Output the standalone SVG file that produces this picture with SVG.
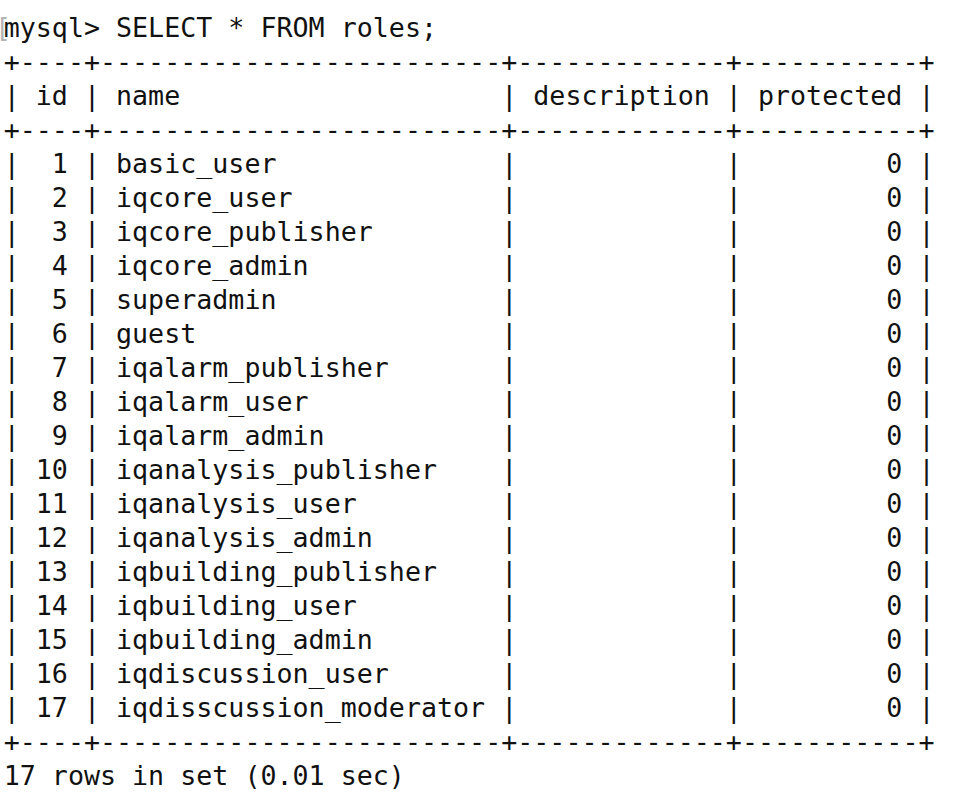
<svg xmlns="http://www.w3.org/2000/svg" width="968" height="796" viewBox="0 0 968 796">
<style>
.t{font-family:"DejaVu Sans Mono","Liberation Mono",monospace;font-size:26.66px;fill:#111;white-space:pre}
.m{font-family:"DejaVu Sans Mono","Liberation Mono",monospace;font-size:26.66px;fill:#b4b4b4}
</style>
<rect width="968" height="796" fill="#ffffff"/>
<g id="terminal">
<text class="m" x="-5" y="36.7">[</text>
<text class="t" xml:space="preserve" x="3.7" y="36.7">mysql&gt; SELECT * FROM roles;</text>
<text class="t" xml:space="preserve" x="3.7" y="70.7">+----+-------------------------+-------------+-----------+</text>
<text class="t" xml:space="preserve" x="3.7" y="104.7">| id | name                    | description | protected |</text>
<text class="t" xml:space="preserve" x="3.7" y="138.7">+----+-------------------------+-------------+-----------+</text>
<text class="t" xml:space="preserve" x="3.7" y="172.7">|  1 | basic_user              |             |         0 |</text>
<text class="t" xml:space="preserve" x="3.7" y="206.7">|  2 | iqcore_user             |             |         0 |</text>
<text class="t" xml:space="preserve" x="3.7" y="240.7">|  3 | iqcore_publisher        |             |         0 |</text>
<text class="t" xml:space="preserve" x="3.7" y="274.7">|  4 | iqcore_admin            |             |         0 |</text>
<text class="t" xml:space="preserve" x="3.7" y="308.7">|  5 | superadmin              |             |         0 |</text>
<text class="t" xml:space="preserve" x="3.7" y="342.7">|  6 | guest                   |             |         0 |</text>
<text class="t" xml:space="preserve" x="3.7" y="376.7">|  7 | iqalarm_publisher       |             |         0 |</text>
<text class="t" xml:space="preserve" x="3.7" y="410.7">|  8 | iqalarm_user            |             |         0 |</text>
<text class="t" xml:space="preserve" x="3.7" y="444.7">|  9 | iqalarm_admin           |             |         0 |</text>
<text class="t" xml:space="preserve" x="3.7" y="478.7">| 10 | iqanalysis_publisher    |             |         0 |</text>
<text class="t" xml:space="preserve" x="3.7" y="512.7">| 11 | iqanalysis_user         |             |         0 |</text>
<text class="t" xml:space="preserve" x="3.7" y="546.7">| 12 | iqanalysis_admin        |             |         0 |</text>
<text class="t" xml:space="preserve" x="3.7" y="580.7">| 13 | iqbuilding_publisher    |             |         0 |</text>
<text class="t" xml:space="preserve" x="3.7" y="614.7">| 14 | iqbuilding_user         |             |         0 |</text>
<text class="t" xml:space="preserve" x="3.7" y="648.7">| 15 | iqbuilding_admin        |             |         0 |</text>
<text class="t" xml:space="preserve" x="3.7" y="682.7">| 16 | iqdiscussion_user       |             |         0 |</text>
<text class="t" xml:space="preserve" x="3.7" y="716.7">| 17 | iqdisscussion_moderator |             |         0 |</text>
<text class="t" xml:space="preserve" x="3.7" y="750.7">+----+-------------------------+-------------+-----------+</text>
<text class="t" xml:space="preserve" x="3.7" y="784.7">17 rows in set (0.01 sec)</text>
</g>
</svg>
